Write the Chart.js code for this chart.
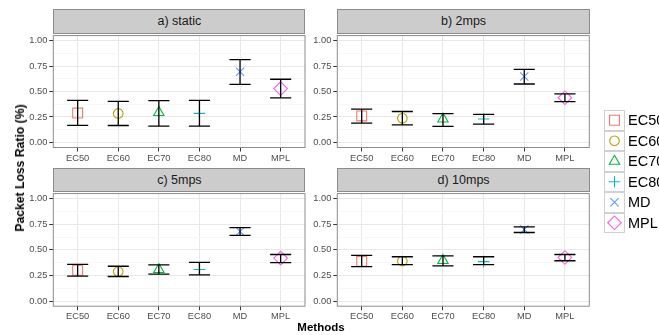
<!DOCTYPE html>
<html>
<head>
<meta charset="utf-8">
<script src="https://cdn.jsdelivr.net/npm/chart.js@4/dist/chart.umd.min.js"></script>
<style>
  html, body { margin:0; padding:0; background:#fff; width:659px; height:335px; overflow:hidden; }
  body { position:relative; font-family:"Liberation Sans", Arial, sans-serif; }
  canvas { position:absolute; }
  .strip { position:absolute; box-sizing:border-box; background:#cccccc; border:1px solid #8c8c8c;
           color:#1a1a1a; font-size:12.5px; display:flex; align-items:center; justify-content:center; }
  .ylab { position:absolute; left:19.5px; top:167.5px; transform:translate(-50%,-50%) rotate(-90deg);
          font-weight:bold; font-size:12.2px; white-space:nowrap; color:#000; }
  .xlab { position:absolute; left:321px; top:327px; transform:translate(-50%,-50%);
          font-weight:bold; font-size:11.5px; white-space:nowrap; color:#000; }
  .legrow { position:absolute; left:604px; height:20.5px; width:60px; }
  .legkey { position:absolute; left:0; top:0; width:21px; height:20.5px; box-sizing:border-box; border:1px solid #d0d0d0; background:#fff; }
  .legtxt { position:absolute; left:24px; top:50%; transform:translateY(-50%); font-size:14.5px; color:#000; white-space:nowrap; }
</style>
</head>
<body>
<script>
// ---- data ----
const categories = ['EC50','EC60','EC70','EC80','MD','MPL'];
const yTicks = [0, 0.25, 0.5, 0.75, 1];
const panelTitles = ['a) static', 'b) 2mps', 'c) 5mps', 'd) 10mps'];

const staticMean = [0.288, 0.285, 0.294, 0.285, 0.695, 0.529];
const staticLow  = [0.167, 0.166, 0.160, 0.160, 0.570, 0.438];
const staticHigh = [0.413, 0.404, 0.410, 0.413, 0.813, 0.621];

const mps2Mean = [0.260, 0.237, 0.230, 0.230, 0.647, 0.439];
const mps2Low  = [0.189, 0.173, 0.157, 0.180, 0.574, 0.400];
const mps2High = [0.327, 0.304, 0.282, 0.276, 0.718, 0.478];

const mps5Mean = [0.301, 0.288, 0.308, 0.308, 0.679, 0.420];
const mps5Low  = [0.244, 0.240, 0.263, 0.256, 0.641, 0.375];
const mps5High = [0.359, 0.340, 0.353, 0.378, 0.718, 0.455];

const mps10Mean = [0.388, 0.391, 0.397, 0.385, 0.699, 0.426];
const mps10Low  = [0.337, 0.356, 0.343, 0.356, 0.670, 0.394];
const mps10High = [0.446, 0.433, 0.442, 0.433, 0.724, 0.455];

// ---- styling ----
const colors = ['#F8766D', '#B79F00', '#00BA38', '#00BFC4', '#619CFF', '#F564E3'];
const styles = ['rect', 'circle', 'triangle', 'cross', 'crossRot', 'rectRot'];
const radii  = [7, 4.8, 6, 5.8, 5.8, 6.8];

Chart.defaults.font.family = '"Liberation Sans", Arial, sans-serif';
Chart.defaults.animation = false;

const panelData = [
  [staticMean, staticLow, staticHigh],
  [mps2Mean, mps2Low, mps2High],
  [mps5Mean, mps5Low, mps5High],
  [mps10Mean, mps10Low, mps10High]
];
// plot-area rectangles [left, top, right, bottom] and strip tops
const areas = [
  [53.3, 33.1, 305, 147.5],
  [337.3, 33.1, 589.3, 147.5],
  [53.3, 191.8, 305, 306.2],
  [337.3, 191.8, 589.3, 306.2]
];
const stripTops = [9, 9, 168.3, 168.3];

const minorTicks = [];
for (let v = 0; v <= 1.0001; v += 0.125) minorTicks.push(Math.round(v * 1000) / 1000);
const isMajor = v => yTicks.some(t => Math.abs(t - v) < 1e-6);

const frameAndBars = {
  id: 'frameAndBars',
  beforeDatasetsDraw(chart) {
    const eb = chart.options.plugins.frameAndBars;
    if (!eb || !eb.low) return;
    const a = chart.chartArea, ctx = chart.ctx;
    ctx.save();
    ctx.strokeStyle = '#8c8c8c';
    ctx.lineWidth = 1;
    ctx.strokeRect(a.left, a.top, a.right - a.left, a.bottom - a.top);
    ctx.restore();
  },
  afterDatasetsDraw(chart) {
    const eb = chart.options.plugins.frameAndBars;
    if (!eb || !eb.low) return;
    const xs = chart.scales.x, ys = chart.scales.y, ctx = chart.ctx;
    ctx.save();
    ctx.strokeStyle = '#000';
    ctx.lineWidth = 1.3;
    eb.low.forEach((lo, i) => {
      const hi = eb.high[i];
      const x = xs.getPixelForValue(i + 1);
      const xl = xs.getPixelForValue(i + 1 - 0.26), xr = xs.getPixelForValue(i + 1 + 0.26);
      const yl = ys.getPixelForValue(lo), yh = ys.getPixelForValue(hi);
      ctx.beginPath();
      ctx.moveTo(x, yl); ctx.lineTo(x, yh);
      ctx.moveTo(xl, yl); ctx.lineTo(xr, yl);
      ctx.moveTo(xl, yh); ctx.lineTo(xr, yh);
      ctx.stroke();
    });
    ctx.restore();
  }
};

function makePanel(p) {
  const [L, T, R, B] = areas[p];
  const [mean, low, high] = panelData[p];
  const yAxisW = 53.3;
  const cl = Math.round(L - yAxisW);
  const yw = L - cl;
  const ct = Math.floor(T - 5);
  const padTop = T - ct;
  const cw = Math.ceil(R - cl + 5);
  const padRight = cw - (R - cl);
  const ch = Math.ceil(B - ct + 22);
  const xh = ch - (B - ct);

  const strip = document.createElement('div');
  strip.className = 'strip';
  strip.style.left = L + 'px';
  strip.style.top = stripTops[p] + 'px';
  strip.style.width = (R - L + 0.5) + 'px';
  strip.style.height = (T - stripTops[p] + 0.5) + 'px';
  strip.textContent = panelTitles[p];
  document.body.appendChild(strip);

  const cv = document.createElement('canvas');
  cv.width = cw; cv.height = ch;
  cv.style.left = cl + 'px'; cv.style.top = ct + 'px';
  cv.style.width = cw + 'px'; cv.style.height = ch + 'px';
  document.body.appendChild(cv);

  new Chart(cv.getContext('2d'), {
    type: 'scatter',
    data: {
      datasets: [{
        data: categories.map((c, i) => ({ x: i + 1, y: mean[i] })),
        pointStyle: styles,
        pointRadius: radii,
        pointBorderColor: colors,
        pointBackgroundColor: 'rgba(0,0,0,0)',
        pointBorderWidth: 1.1,
        pointHoverRadius: radii
      }]
    },
    options: {
      responsive: false,
      devicePixelRatio: 1,
      events: [],
      layout: { autoPadding: false, padding: { top: padTop, right: padRight, left: 0, bottom: 0 } },
      plugins: {
        legend: { display: false },
        tooltip: { enabled: false },
        frameAndBars: { low: low, high: high }
      },
      scales: {
        x: {
          type: 'linear', min: 0.4, max: 6.6,
          afterBuildTicks: s => { s.ticks = categories.map((c, i) => ({ value: i + 1 })); },
          afterFit: s => { s.height = xh; },
          ticks: {
            callback: v => categories[Math.round(v) - 1],
            font: { size: 9.3 }, color: '#4d4d4d', padding: 1, maxRotation: 0, autoSkip: false
          },
          grid: { color: '#e8e8e8', lineWidth: 1, tickLength: 4, tickColor: '#333333', drawTicks: true },
          border: { display: false }
        },
        y: {
          type: 'linear', min: -0.05, max: 1.05,
          afterBuildTicks: s => { s.ticks = minorTicks.map(v => ({ value: v })); },
          afterFit: s => { s.width = yw; },
          ticks: {
            callback: v => isMajor(v) ? v.toFixed(2) : '',
            font: { size: 9.3 }, color: '#4d4d4d', padding: 2, autoSkip: false
          },
          grid: {
            color: c => (c.tick && isMajor(c.tick.value)) ? '#e8e8e8' : '#f7f7f7',
            tickColor: c => (c.tick && isMajor(c.tick.value)) ? '#333333' : 'rgba(0,0,0,0)',
            lineWidth: 1, tickLength: 4, drawTicks: true
          },
          border: { display: false }
        }
      }
    },
    plugins: [frameAndBars]
  });
}

[0, 1, 2, 3].forEach(makePanel);

// axis titles
const yl = document.createElement('div');
yl.className = 'ylab'; yl.textContent = 'Packet Loss Ratio (%)';
document.body.appendChild(yl);
const xl = document.createElement('div');
xl.className = 'xlab'; xl.textContent = 'Methods';
document.body.appendChild(xl);

// legend
const legTop = 110, rowH = 20.5;
categories.forEach((c, i) => {
  const row = document.createElement('div');
  row.className = 'legrow';
  row.style.top = (legTop + i * rowH) + 'px';
  row.innerHTML = '<div class="legkey"></div><span class="legtxt"></span>';
  row.querySelector('.legtxt').textContent = c;
  document.body.appendChild(row);
});
const lc = document.createElement('canvas');
lc.width = 21; lc.height = 123;
lc.style.left = '604px'; lc.style.top = legTop + 'px';
lc.style.width = '21px'; lc.style.height = '123px';
lc.style.zIndex = 5;
document.body.appendChild(lc);
new Chart(lc.getContext('2d'), {
  type: 'scatter',
  data: {
    datasets: [{
      data: categories.map((c, i) => ({ x: 0, y: i })),
      pointStyle: styles,
      pointRadius: radii,
      pointBorderColor: colors,
      pointBackgroundColor: 'rgba(0,0,0,0)',
      pointBorderWidth: 1.1,
      clip: false
    }]
  },
  options: {
    responsive: false, devicePixelRatio: 1, events: [],
    layout: { autoPadding: false, padding: 0 },
    plugins: { legend: { display: false }, tooltip: { enabled: false } },
    scales: {
      x: { display: false, min: -1, max: 1 },
      y: { display: false, min: -0.5, max: 5.5, reverse: true }
    }
  }
});
</script>
</body>
</html>
